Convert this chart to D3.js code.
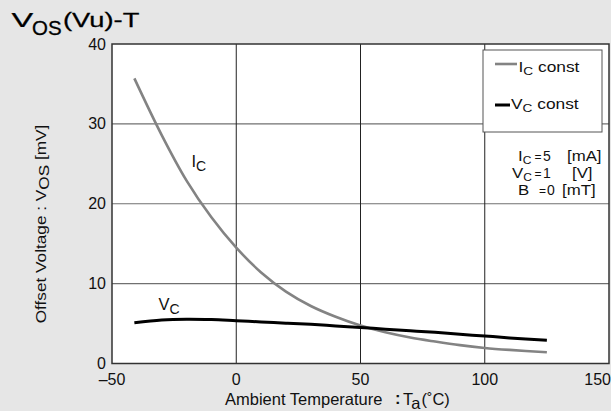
<!DOCTYPE html>
<html>
<head>
<meta charset="utf-8">
<script src="https://cdn.jsdelivr.net/npm/d3@7"></script>
<style>
  body { margin: 0; background: #e6e6e6; }
  svg { display: block; font-family: "Liberation Sans", Arial, sans-serif; }
</style>
</head>
<body>
<svg id="chart" width="611" height="411"></svg>
<script>
// Data
const temps = [-41, -30, -20, -10, 0, 10, 20, 30, 40, 50, 60, 70, 80, 90, 100, 110, 125];
const icConst = [35.7, 28.6, 22.9, 18.3, 14.5, 11.4, 9.0, 7.2, 5.85, 4.75, 3.9, 3.25, 2.75, 2.3, 1.95, 1.7, 1.4];
const vcConst = [5.1, 5.45, 5.55, 5.5, 5.35, 5.2, 5.05, 4.9, 4.7, 4.5, 4.3, 4.1, 3.9, 3.65, 3.45, 3.2, 2.9];
const xTicks = [-50, 0, 50, 100, 150];
const yTicks = [0, 10, 20, 30, 40];

const svg = d3.select('#chart');
const margin = { top: 44, left: 112, right: 2, bottom: 48 };
const width = 611, height = 411;

const x = d3.scaleLinear().domain([-50, 150]).range([margin.left, width - margin.right]);
const y = d3.scaleLinear().domain([0, 40]).range([height - margin.bottom + 0.5, margin.top]);

// Text helper: the reference font is a little wider than Arial, so stretch horizontally
function label(px, py, size, sx, rotate) {
    const g = svg.append('g')
        .attr('transform', `translate(${px},${py})` + (rotate ? ` rotate(${rotate})` : '') + ` scale(${sx},1)`);
    return g.append('text')
        .style('font-size', size + 'px')
        .style('fill', '#111');
}

// Plot background
svg.append('rect')
    .attr('x', x(-50)).attr('y', y(40))
    .attr('width', x(150) - x(-50)).attr('height', y(0) - y(40))
    .attr('fill', '#ffffff');

// Grid: horizontal gray, vertical black
svg.append('g').selectAll('line')
    .data(yTicks.slice(1, -1))
    .join('line')
    .attr('x1', x(-50)).attr('x2', x(150))
    .attr('y1', d => y(d)).attr('y2', d => y(d))
    .attr('stroke', '#707070').attr('stroke-width', 1.2);

svg.append('g').selectAll('line')
    .data(xTicks.slice(1, -1))
    .join('line')
    .attr('x1', d => x(d)).attr('x2', d => x(d))
    .attr('y1', y(0)).attr('y2', y(40))
    .attr('stroke', '#222').attr('stroke-width', 1);

// Curves
const line = d3.line()
    .x((d, i) => x(temps[i]))
    .y(d => y(d))
    .curve(d3.curveCatmullRom.alpha(0.5));

svg.append('path')
    .datum(icConst)
    .attr('d', line)
    .attr('fill', 'none')
    .attr('stroke', '#838383')
    .attr('stroke-width', 2.6);

svg.append('path')
    .datum(vcConst)
    .attr('d', line)
    .attr('fill', 'none')
    .attr('stroke', '#000')
    .attr('stroke-width', 3);

// Plot border
svg.append('rect')
    .attr('x', x(-50)).attr('y', y(40))
    .attr('width', x(150) - x(-50)).attr('height', y(0) - y(40))
    .attr('fill', 'none')
    .attr('stroke', '#333').attr('stroke-width', 1.5);

// Tick labels
svg.append('g').selectAll('text')
    .data(yTicks)
    .join('text')
    .attr('x', x(-50) - 6)
    .attr('y', d => y(d))
    .attr('dy', '0.35em')
    .attr('text-anchor', 'end')
    .style('font-size', '16px')
    .style('fill', '#111')
    .text(d => d);

svg.append('g').selectAll('text')
    .data(xTicks)
    .join('text')
    .attr('x', d => d === 150 ? width : x(d))
    .attr('y', y(0) + 21)
    .attr('text-anchor', d => d === 150 ? 'end' : 'middle')
    .style('font-size', '16px')
    .style('fill', '#111')
    .text(d => d < 0 ? '\u2013' + Math.abs(d) : d);

// Title, in three stretched pieces
label(11.5, 27, 21, 1.55).style('fill', '#000').style('stroke', '#000').style('stroke-width', 0.25).text('V');
label(32, 35, 19.5, 1.05).style('fill', '#000').style('stroke', '#000').style('stroke-width', 0.3).text('OS');
label(63, 27, 21, 1.3).style('fill', '#000').style('stroke', '#000').style('stroke-width', 0.25).text('(Vu)-T');

// X axis title
const xg = svg.append('g').style('font-size', '16.5px').style('fill', '#111');
xg.append('text').attr('x', 225).attr('y', 405).text('Ambient Temperature');
xg.append('text').attr('x', 395).attr('y', 404).style('font-weight', 'bold').text(':');
const xt = xg.append('text').attr('x', 403).attr('y', 405);
xt.append('tspan').text('T');
xt.append('tspan').attr('dy', 4).text('a');
xt.append('tspan').attr('dy', -4).attr('dx', 1).text('(\u02DAC)');

// Y axis title
const yt = label(46, 224, 14, 1.23, -90).attr('text-anchor', 'middle');
yt.append('tspan').text('Offset Voltage : V');
yt.append('tspan').attr('dy', 3).text('OS');
yt.append('tspan').attr('dy', -3).text(' [mV]');

// Curve labels
function subLabel(tx, ty, main, sub) {
    const t = svg.append('text')
        .attr('x', x(tx)).attr('y', y(ty))
        .style('font-size', '16.5px')
        .style('fill', '#111');
    t.append('tspan').text(main);
    t.append('tspan').attr('dy', 4).style('font-size', '14px').text(sub);
    return t;
}
subLabel(-18, 24.6, 'I', 'C');
subLabel(-31.3, 6.7, 'V', 'C');

// Legend
svg.append('rect')
    .attr('x', 483).attr('y', 50)
    .attr('width', 119).attr('height', 82)
    .attr('fill', '#fff')
    .attr('stroke', '#555').attr('stroke-width', 1);

const legendItems = [
    { name: 'I', color: '#838383', w: 2.6, x2: 517, tx: 518.5, ly: 64, ty: 71.5 },
    { name: 'V', color: '#000', w: 3, x2: 510, tx: 511, ly: 105, ty: 108.5 }
];
legendItems.forEach(d => {
    svg.append('line')
        .attr('x1', 495).attr('x2', d.x2)
        .attr('y1', d.ly).attr('y2', d.ly)
        .attr('stroke', d.color).attr('stroke-width', d.w);
    const t = label(d.tx, d.ty, 14, 1.24);
    t.append('tspan').text(d.name);
    t.append('tspan').attr('dy', 3).style('font-size', '11px').text('C');
    t.append('tspan').attr('dy', -3).text(' const');
});

// Conditions
const conds = [
    { sym: 'I', sub: 'C', sx: 518, eq: 534.5, val: '5', vx: 543, unit: '[mA]', ux: 567 },
    { sym: 'V', sub: 'C', sx: 512, eq: 534.5, val: '1', vx: 543, unit: '[V]', ux: 572 },
    { sym: 'B', sub: '', sx: 518, eq: 539, val: '0', vx: 547, unit: '[mT]', ux: 562 }
];
conds.forEach((d, i) => {
    const cy = 160.5 + i * 17.3;
    const t = label(d.sx, cy, 14, 1.2);
    t.append('tspan').text(d.sym);
    if (d.sub) t.append('tspan').attr('dy', 3).style('font-size', '10px').text(d.sub);
    label(d.eq, cy, 12, 1).text('=');
    label(d.vx, cy, 14, 1).text(d.val);
    label(d.ux, cy, 14, 1.2).text(d.unit);
});
</script>
</body>
</html>
